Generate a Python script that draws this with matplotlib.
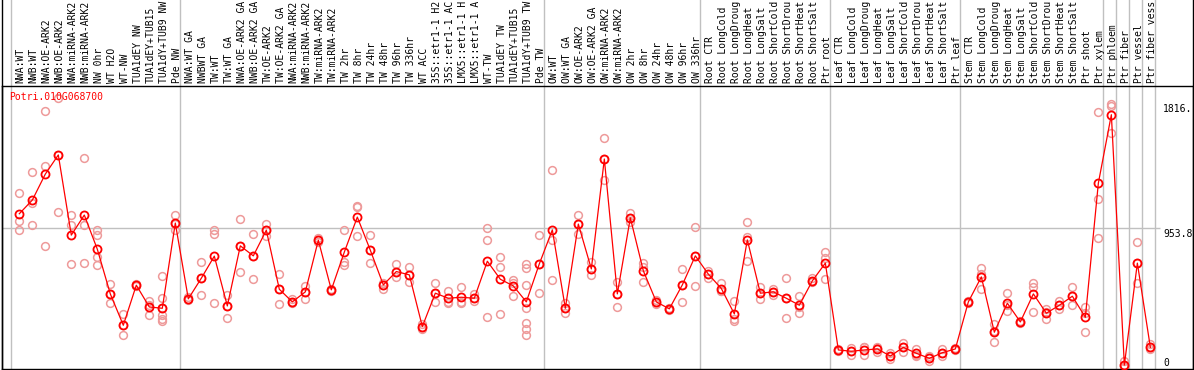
import matplotlib
matplotlib.use("Agg")
import matplotlib.pyplot as plt
from matplotlib.lines import Line2D
import matplotlib.transforms as mtransforms

gene = "Potri.010G068700"

samples = [
    "NWA:WT", "NWB:WT", "NWA:OE-ARK2", "NWB:OE-ARK2", "NWA:miRNA-ARK2", "NWB:miRNA-ARK2",
    "NW 0hr", "WT H2O", "WT-NW", "TUA1dEY NW", "TUA1dEY+TUB15 NW", "TUA1dY+TUB9 NW", "Pde NW",
    "NWA:WT GA", "NWBWT GA", "TW:WT", "TW:WT GA", "NWA:OE-ARK2 GA", "NWB:OE-ARK2 GA",
    "TW:OE-ARK2", "TW:OE-ARK2 GA", "NWA:miRNA-ARK2 GA", "NWB:miRNA-ARK2 GA", "TW:miRNA-ARK2",
    "TW:miRNA-ARK2 GA", "TW 2hr", "TW 8hr", "TW 24hr", "TW 48hr", "TW 96hr", "TW 336hr",
    "WT ACC", "35S::etr1-1 H2O", "35S::etr1-1 ACC", "LMX5::etr1-1 H2O", "LMX5::etr1-1 ACC",
    "WT-TW", "TUA1dEY TW", "TUA1dEY+TUB15 TW", "TUA1dY+TUB9 TW", "Pde TW",
    "OW:WT", "OW:WT GA", "OW:OE-ARK2", "OW:OE-ARK2 GA", "OW:miRNA-ARK2", "OW:miRNA-ARK2 GA",
    "OW 2hr", "OW 8hr", "OW 24hr", "OW 48hr", "OW 96hr", "OW 336hr",
    "Root CTR", "Root LongCold", "Root LongDrought", "Root LongHeat", "Root LongSalt",
    "Root ShortCold", "Root ShortDrought", "Root ShortHeat", "Root ShortSalt", "Ptr root",
    "Leaf CTR", "Leaf LongCold", "Leaf LongDrought", "Leaf LongHeat", "Leaf LongSalt",
    "Leaf ShortCold", "Leaf ShortDrought", "Leaf ShortHeat", "Leaf ShortSalt", "Ptr leaf",
    "Stem CTR", "Stem LongCold", "Stem LongDrought", "Stem LongHeat", "Stem LongSalt",
    "Stem ShortCold", "Stem ShortDrought", "Stem ShortHeat", "Stem ShortSalt", "Ptr shoot",
    "Ptr xylem", "Ptr phloem", "Ptr fiber", "Ptr vessel", "Ptr fiber vessel",
]

group_sizes = [13, 28, 12, 10, 10, 11, 1, 1, 1, 1]

means = [
    1052, 1146, 1325, 1457, 905, 1043, 808, 500, 284, 560, 410, 401, 988,
    466, 608, 760, 417, 831, 762, 939, 532, 445, 514, 870, 528, 788, 1029, 801, 562,
    654, 631, 275, 505, 470, 477, 470, 725, 601, 555, 445, 707,
    941, 401, 981, 672, 1429, 500, 1024, 659, 445, 397, 562, 762,
    636, 537, 362, 872, 505, 514, 470, 422, 590, 712,
    114, 105, 114, 121, 72, 132, 91, 56, 95, 121,
    445, 617, 236, 436, 307, 500, 367, 422, 484, 339, 1263,
    1734, 10, 712, 132,
]

replicates = [
    [1194, 1001, 939], [1341, 1123, 974], [1760, 1383, 829], [1852, 1456, 1063],
    [1043, 976, 707], [1436, 974, 712], [937, 905, 753, 698], [569, 500, 436],
    [362, 284, 215], [565, 555], [454, 423, 353], [624, 472, 353, 326, 312, 400],
    [1043, 980, 941],
    [477, 460], [719, 608, 493], [941, 914, 438], [495, 420, 332], [1015, 831, 652],
    [914, 762, 601], [978, 940, 900], [638, 532, 431], [463, 445, 435], [555, 514, 468],
    [886, 870, 855], [535, 520], [941, 721, 702], [1107, 1098, 900], [905, 801, 712],
    [574, 562, 532], [707, 654, 615], [684, 631, 581], [290, 275, 257], [574, 505, 445],
    [521, 445, 440], [546, 445, 440], [500, 470, 450], [951, 872, 343], [757, 684, 362],
    [597, 578, 486], [707, 679, 560, 403, 302, 261, 215], [905, 707, 505],
    [1355, 868, 597], [436, 401, 371], [1043, 981, 914], [719, 672, 629],
    [1574, 1429, 1286], [583, 500, 408], [1057, 1024, 997], [712, 683, 583],
    [459, 445, 431], [405, 397, 390], [670, 562, 445], [960, 762, 555],
    [661, 636, 611], [574, 519, 518], [450, 325, 312], [994, 895, 725], [550, 505, 463],
    [537, 514, 491], [608, 470, 332], [486, 410, 371], [608, 590, 582], [790, 748, 601],
    [120, 114, 108], [128, 110, 77], [132, 133, 77], [134, 128, 100], [94, 72, 50],
    [164, 132, 100], [123, 78, 72], [72, 56, 40], [119, 95, 72], [126, 121, 116],
    [450, 445, 440], [675, 640, 537], [293, 245, 169], [505, 422, 381], [315, 307, 300],
    [578, 550, 376], [399, 372, 330], [450, 422, 394], [546, 484, 422], [412, 369, 236],
    [1753, 1153, 884],
    [1810, 1797, 1608], [35, 5, 0], [857, 712, 574], [155, 132, 119],
]

y_labels = ["1816.", "953.8", "0"]
y_label_values = [1816, 953.8, 0]

# ---------------------------------------------------------------------------
W, H = 1194, 370
fig = plt.figure(figsize=(W / 100, H / 100), dpi=100)
ax = fig.add_axes([2 / W, 1 / H, 1191 / W, 283 / H])
ax.set_xlim(-1.331, 90.28)
ax.set_ylim(-17.2, 1931.8)
ax.set_xticks([])
ax.set_yticks([])
for s in ax.spines.values():
    s.set_color("black")
    s.set_linewidth(1.0)

mono = "DejaVu Sans Mono"
fs = 7.0
grid_c = "#c0c0c0"
max_chars = 14  # the label strip only has room for this many characters

x = list(range(len(means)))

# group separators
start = 0
bounds = [0]
for g in group_sizes:
    start += g
    bounds.append(start)
for b in bounds:
    ax.axvline(b - 0.64, ymin=0, ymax=370 / 283, color=grid_c, lw=1.0,
               clip_on=False, zorder=0)

# middle horizontal grid line
ax.hlines(y_label_values[1], -1.331, 87.75, color=grid_c, lw=1.0, zorder=0)

# replicates
for i, reps in enumerate(replicates):
    ax.plot([i] * len(reps), reps, linestyle="none", marker="o", ms=5.6,
            mfc="none", mec="#ee9a9a", mew=1.1, zorder=2, clip_on=False)

# mean line
ax.plot(x, means, color="#ff0000", lw=0.9, zorder=3)
ax.plot(x, means, linestyle="none", marker="o", ms=5.8, mfc="none",
        mec="#ff0000", mew=1.3, zorder=4)

# sample labels (truncated to the strip height, as in the original)
trans = mtransforms.blended_transform_factory(ax.transData, ax.transAxes)
for i, name in enumerate(samples):
    shown = name[:max_chars].rstrip()
    ax.text(i + 0.1, 1 + 3 / 283, shown, rotation=90, ha="center", va="bottom",
            fontsize=fs, family=mono, transform=trans, clip_on=False)

# right value labels
for lab, v in zip(y_labels, y_label_values):
    va = "bottom" if v == 0 else "top"
    off = -1 if v == 0 else -1
    ax.annotate(lab, xy=(87.98, v), xytext=(0, off), textcoords="offset pixels",
                ha="left", va=va, fontsize=fs, family=mono, color="black",
                annotation_clip=False)

# gene title
ax.text(7.5 / 1191, 1 - 11 / 283, gene, transform=ax.transAxes,
        ha="left", va="center", fontsize=fs, family=mono, color="#ff0000")

# frame lines through the label strip
fig.add_artist(Line2D([2 / W, 2 / W], [1 / H, 1], color="black", lw=1.0))
fig.add_artist(Line2D([1193 / W, 1193 / W], [1 / H, 1], color="black", lw=1.0))

fig.savefig("out.png", dpi=100)
